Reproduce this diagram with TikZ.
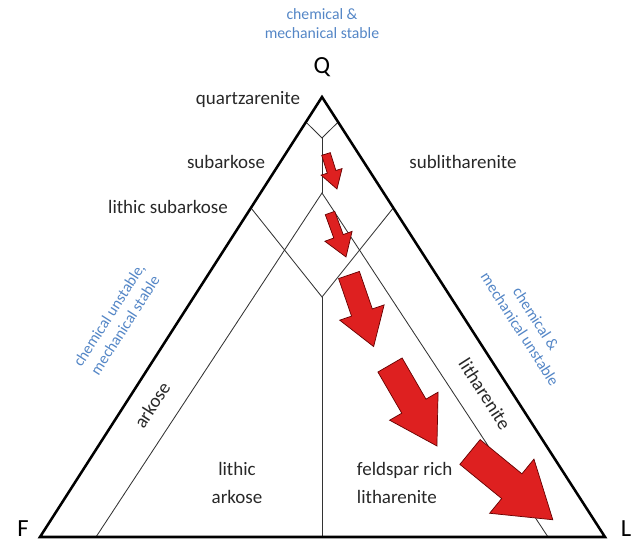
\documentclass[tikz,border=0pt]{standalone}
\usepackage{fontspec}
\setmainfont{Carlito}
\usetikzlibrary{calc}
\definecolor{noteblue}{RGB}{84,134,198}
\definecolor{trendred}{RGB}{222,32,32}
\definecolor{rockgrey}{RGB}{40,40,40}

% block arrow: tail, angle, length, head length, shaft width, head width
\newcommand{\trendarrow}[6]{%
  \draw[trend, shift={#1}, rotate=#2] (0,#5/2) -- (#3-#4,#5/2) -- (#3-#4,#6/2)
    -- (#3,0) -- (#3-#4,-#6/2) -- (#3-#4,-#5/2) -- (0,-#5/2) -- cycle;}

\begin{document}
\begin{tikzpicture}[x=0.025cm, y=0.025cm,
    outer/.style={line width=1.8pt, line join=miter},
    inner/.style={line width=0.6pt, draw=black!80},
    trend/.style={fill=trendred, draw=red!40!black, line width=0.5pt},
    rock/.style={font=\fontsize{13.5}{19.5}\selectfont, text=rockgrey},
    note/.style={font=\fontsize{11.2}{13.5}\selectfont, text=noteblue, align=center},
    apex/.style={font=\fontsize{17.5}{20}\selectfont, anchor=base, inner sep=0pt}]
		\useasboundingbox (0,0) rectangle (640,544);
		\coordinate (Q) at (322, 447);
		\coordinate (F) at (40, 7);
		\coordinate (L) at (605, 7);
		\node (q) at (322, 470) [apex] {Q};
		\node (f) at (23, 7) [apex] {F};
		\node (l) at (626, 7) [apex] {L};
		% inner fields
		\coordinate (Va) at ($(Q)!0.057!(F)$);
		\coordinate (Vb) at ($(Q)!0.057!(L)$);
		\coordinate (Vc) at (322, 406);
		\coordinate (Vd) at (322, 351);
		\coordinate (Wa) at ($(Q)!0.252!(F)$);
		\coordinate (Wb) at ($(Q)!0.252!(L)$);
		\coordinate (Wc) at (322, 247);
		\coordinate (Ba) at (96, 7);
		\coordinate (Bb) at (548, 7);
		\coordinate (Bc) at (322, 7);
		\draw[inner] (Va)--(Vc)--(Vb);
		\draw[inner] (Vc)--(Vd);
		\draw[inner] (Ba)--(Vd)--(Bb);
		\draw[inner] (Wa)--(Wc)--(Wb);
		\draw[inner] (Wc)--(Bc);
		\draw[outer] (F)--(Q)--(L)--cycle;
		% labels
		\node (qa) at (305, 444) [rock, anchor=east] {quartzarenite};
		\node (sa) at (226, 382) [rock] {subarkose};
		\node (ls) at (168, 337) [rock] {lithic subarkose};
		\node (sl) at (463, 382) [rock] {sublitharenite};
		\node (ar) at (152, 139) [rock, rotate=57.3] {arkose};
		\node (li) at (485, 150) [rock, rotate=-57.3] {litharenite};
		\node (la) at (237, 61) [rock, align=center] {lithic\\arkose};
		\node (fl) at (352, 61) [rock, align=left, anchor=west] {feldspar rich\\litharenite};
		\node (ns) at (322, 520) [note] {chemical \&\\mechanical stable};
		\node (nf) at (117, 224) [note, rotate=57.3] {chemical unstable,\\mechanical stable};
		\node (nl) at (528, 220) [note, rotate=-57.3] {chemical \&\\mechanical unstable};
		% trend arrows
		\trendarrow{(326,390)}{-72.6}{36.7}{18}{9}{22}
		\trendarrow{(330,331)}{-70}{46.8}{22}{10}{29}
		\trendarrow{(349,269)}{-71}{75.7}{36}{22}{47}
		\trendarrow{(390,179)}{-59.9}{93.6}{46}{28}{56}
		\trendarrow{(470,92)}{-39.3}{107}{53}{32}{70}
	\end{tikzpicture}
\end{document}
